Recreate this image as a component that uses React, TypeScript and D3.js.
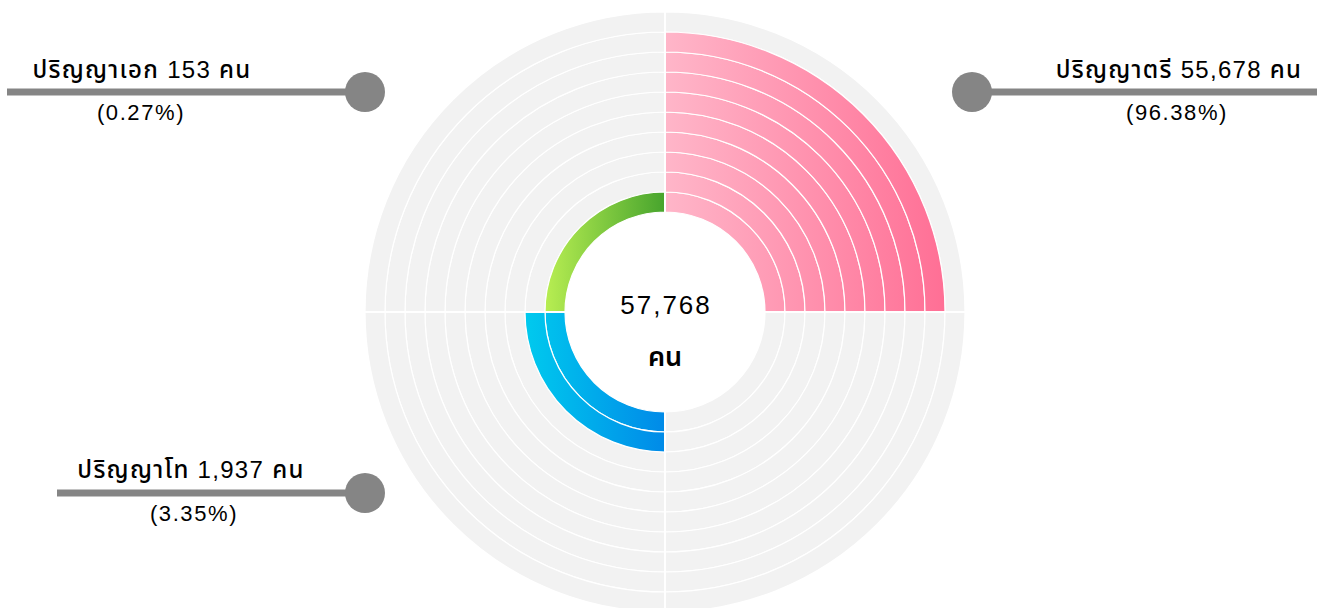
import React from "react";
import * as d3 from "d3";

const categories = ["ปริญญาตรี", "ปริญญาโท", "ปริญญาเอก"];
const counts = [55678, 1937, 153];
const percents = ["96.38%", "3.35%", "0.27%"];
const ringCounts = [9, 2, 1];
const quadrants = [0, 2, 3]; // top-right, bottom-left, top-left
const totalLabel = "57,768";
const unitLabel = "คน";
const totalRings = 10;

const W = 1317;
const H = 608;
const cx = 665;
const cy = 312;
const innerR = 100;
const outerR = 300;

const gradients = [
  { id: "gPink", from: "#ffb6c9", to: "#ff6f95", x1: 0, x2: 280 },
  { id: "gBlue", from: "#00caee", to: "#008ae8", x1: -140, x2: 0 },
  { id: "gGreen", from: "#b8ee52", to: "#47a42d", x1: -120, x2: 0 },
];

const labelPos = [
  { tx: 1179, ty: 78, px: 1177, lineX1: 972, lineX2: 1317, ly: 92, dotX: 972 },
  { tx: 191, ty: 478, px: 194, lineX1: 57, lineX2: 365, ly: 493, dotX: 365 },
  { tx: 142, ty: 78, px: 141, lineX1: 7, lineX2: 365, ly: 92, dotX: 365 },
];

const font = "'Liberation Sans', Arial, 'Noto Sans Thai', sans-serif";

export default function App() {
  const r = d3.scaleLinear().domain([0, totalRings]).range([innerR, outerR]);
  const arc = d3.arc<any>();
  const fmt = d3.format(",");
  const bg: any[] = [];
  for (let q = 0; q < 4; q++) {
    for (let i = 0; i < totalRings; i++) {
      bg.push({
        innerRadius: r(i),
        outerRadius: r(i + 1),
        startAngle: (q * Math.PI) / 2,
        endAngle: ((q + 1) * Math.PI) / 2,
      });
    }
  }
  return (
    <svg width={W} height={H} style={{ display: "block", position: "absolute", left: 0, top: 0 }}>
      <defs>
        {gradients.map((g) => (
          <linearGradient key={g.id} id={g.id} gradientUnits="userSpaceOnUse" x1={g.x1} x2={g.x2} y1={0} y2={0}>
            <stop offset="0%" stopColor={g.from} />
            <stop offset="100%" stopColor={g.to} />
          </linearGradient>
        ))}
      </defs>
      <rect width={W} height={H} fill="#fff" />
      <g transform={`translate(${cx},${cy})`}>
        {bg.map((d, i) => (
          <path key={i} d={arc(d) as string} fill="#f2f2f2" stroke="#fff" strokeWidth={1.2} />
        ))}
        {categories.map((c, ci) =>
          d3.range(ringCounts[ci]).map((i) => (
            <path
              key={c + i}
              d={
                arc({
                  innerRadius: r(i),
                  outerRadius: r(i + 1),
                  startAngle: (quadrants[ci] * Math.PI) / 2,
                  endAngle: ((quadrants[ci] + 1) * Math.PI) / 2,
                }) as string
              }
              fill={`url(#${gradients[ci].id})`}
              stroke="#fff"
              strokeWidth={1.2}
            />
          ))
        )}
        <line x1={0} x2={0} y1={-outerR} y2={outerR} stroke="#fff" strokeWidth={2} />
        <line x1={-outerR} x2={outerR} y1={0} y2={0} stroke="#fff" strokeWidth={2} />
        <circle r={innerR - 0.5} fill="#fff" />
        <text x={1} y={2} textAnchor="middle" fontFamily={font} fontSize={26} letterSpacing={2} fill="#000">
          {totalLabel}
        </text>
        <text x={0} y={54} textAnchor="middle" fontFamily={font} fontSize={27} fontWeight={600} fill="#000">
          {unitLabel}
        </text>
      </g>
      {categories.map((c, ci) => {
        const p = labelPos[ci];
        return (
          <g key={c}>
            <line x1={p.lineX1} x2={p.lineX2} y1={p.ly} y2={p.ly} stroke="#858585" strokeWidth={7} />
            <circle cx={p.dotX} cy={p.ly} r={20} fill="#858585" />
            <text x={p.tx} y={p.ty} textAnchor="middle" fontFamily={font} fontSize={24} fontWeight={500} letterSpacing={1.3} fill="#000">
              {`${c} ${fmt(counts[ci])} ${unitLabel}`}
            </text>
            <text x={p.px} y={p.ly + 28} textAnchor="middle" fontFamily={font} fontSize={22} letterSpacing={1.6} fill="#000">
              {`(${percents[ci]})`}
            </text>
          </g>
        );
      })}
    </svg>
  );
}
